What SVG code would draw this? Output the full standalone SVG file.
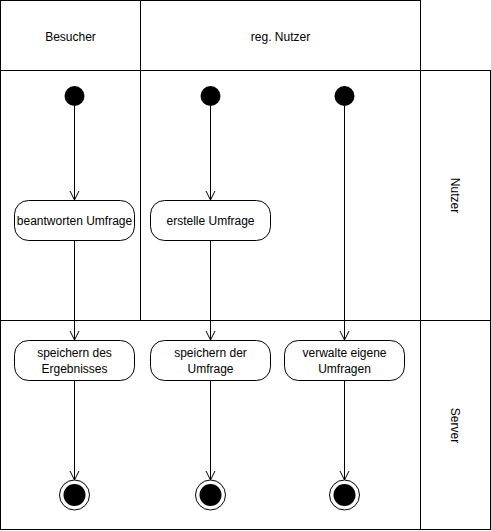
<svg xmlns="http://www.w3.org/2000/svg" width="491" height="531" viewBox="0 0 491 531">
<style>
.lane{fill:#fff;stroke:#000;stroke-width:1}
.t{font-family:"Liberation Sans",Arial,sans-serif;font-size:12px;fill:#000;text-anchor:middle}
.act{fill:#fff;stroke:#000;stroke-width:1}
.start{fill:#000}
.conn line{stroke:#000;stroke-width:1;fill:none}
</style>
<defs>
<marker id="arr" markerUnits="userSpaceOnUse" markerWidth="12" markerHeight="12" viewBox="-11 -6 12 12" refX="0" refY="0" orient="auto">
<path d="M-9,-4.5 L0,0 L-9,4.5" fill="none" stroke="#000" stroke-width="1"/>
</marker>
</defs>
<rect x="0" y="0" width="491" height="531" fill="#fff"/>
<g id="lanes">
<rect class="lane" x="0.5" y="0.5" width="140" height="70"/>
<rect class="lane" x="140.5" y="0.5" width="280" height="70"/>
<rect class="lane" x="0.5" y="70.5" width="420" height="459"/>
<rect class="lane" x="420.5" y="70.5" width="70" height="459"/>
<line x1="140.5" y1="70.5" x2="140.5" y2="320.5" stroke="#000"/>
<line x1="0.5" y1="320.5" x2="490.5" y2="320.5" stroke="#000"/>
<text class="t" x="70.5" y="41">Besucher</text>
<text class="t" x="280.5" y="41">reg. Nutzer</text>
<text class="t" transform="translate(451,195.5) rotate(90)">Nutzer</text>
<text class="t" transform="translate(451,425.5) rotate(90)">Server</text>
</g>
<g id="start1"><circle class="start" cx="74.5" cy="96" r="10"/></g>
<g id="start2"><circle class="start" cx="210.5" cy="96" r="10"/></g>
<g id="start3"><circle class="start" cx="344.5" cy="96" r="10"/></g>
<g id="act1"><rect class="act" x="14.5" y="200.5" width="120" height="40" rx="14"/><text class="t" x="74.5" y="225">beantworten Umfrage</text></g>
<g id="act2"><rect class="act" x="150.5" y="200.5" width="120" height="40" rx="14"/><text class="t" x="210.5" y="225">erstelle Umfrage</text></g>
<g id="act3"><rect class="act" x="14.5" y="340.5" width="120" height="40" rx="14"/><text class="t" x="74.5" y="357">speichern des</text><text class="t" x="74.5" y="373">Ergebnisses</text></g>
<g id="act4"><rect class="act" x="150.5" y="340.5" width="120" height="40" rx="14"/><text class="t" x="210.5" y="357">speichern der</text><text class="t" x="210.5" y="373">Umfrage</text></g>
<g id="act5"><rect class="act" x="284.5" y="340.5" width="120" height="40" rx="14"/><text class="t" x="344.5" y="357">verwalte eigene</text><text class="t" x="344.5" y="373">Umfragen</text></g>
<g id="end1"><circle cx="74.5" cy="495" r="15" fill="#fff" stroke="#000"/><circle cx="74.5" cy="495" r="11" fill="#000"/></g>
<g id="end2"><circle cx="210.5" cy="495" r="15" fill="#fff" stroke="#000"/><circle cx="210.5" cy="495" r="11" fill="#000"/></g>
<g id="end3"><circle cx="344.5" cy="495" r="15" fill="#fff" stroke="#000"/><circle cx="344.5" cy="495" r="11" fill="#000"/></g>
<g id="connectors" class="conn">
<line x1="74.5" y1="106" x2="74.5" y2="200" marker-end="url(#arr)"/>
<line x1="210.5" y1="106" x2="210.5" y2="200" marker-end="url(#arr)"/>
<line x1="74.5" y1="241" x2="74.5" y2="340" marker-end="url(#arr)"/>
<line x1="210.5" y1="241" x2="210.5" y2="340" marker-end="url(#arr)"/>
<line x1="344.5" y1="106" x2="344.5" y2="340" marker-end="url(#arr)"/>
<line x1="74.5" y1="381" x2="74.5" y2="480" marker-end="url(#arr)"/>
<line x1="210.5" y1="381" x2="210.5" y2="480" marker-end="url(#arr)"/>
<line x1="344.5" y1="381" x2="344.5" y2="480" marker-end="url(#arr)"/>
</g>
</svg>
